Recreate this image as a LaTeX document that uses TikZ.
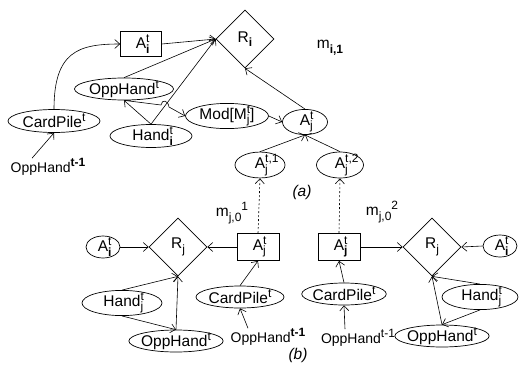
\documentclass[tikz,border=0pt]{standalone}
\usepackage{fontspec}
\setmainfont{Liberation Sans}
\usetikzlibrary{shapes.geometric,arrows.meta}
\newcommand{\SbSp}[2]{{\fontsize{12}{12}\selectfont
  \setbox0\hbox{#1}\setbox2\hbox{#2}%
  \dimen0=\ifdim\wd0>\wd2 \wd0\else\wd2\fi
  \rlap{\raisebox{-0.38em}{\box0}}\rlap{\raisebox{0.5em}{\box2}}\hspace{\dimen0}}}
\newcommand{\SpOnly}[1]{{\fontsize{12}{12}\selectfont\raisebox{0.5em}{#1}}}
\newcommand{\SbOnly}[1]{{\fontsize{12}{12}\selectfont\raisebox{-0.38em}{#1}}}
\begin{document}
\begin{tikzpicture}[x=1pt,y=-1pt,
  every node/.style={font=\fontsize{15.5}{17}\selectfont, inner sep=0pt},
  freelabel/.style={font=\fontsize{14}{16}\selectfont},
  ell/.style={draw, ellipse, line width=0.7pt, inner sep=-1.5pt},
  rectbox/.style={draw, rectangle, line width=0.7pt, minimum width=42pt, minimum height=27pt},
  dia/.style={draw, diamond, line width=0.7pt, minimum width=58pt, minimum height=58pt},
  arr/.style={line width=0.6pt, -{Straight Barb[length=5pt,width=9pt]}},
  darr/.style={arr, dash pattern=on 2pt off 2pt}]
\useasboundingbox (0,0) rectangle (519,364);

% ---------- (a) ----------
\node[rectbox, minimum width=41pt, minimum height=25pt] (ai) at (141,44) {A\SbSp{\textbf{i}}{t}};
\node[dia] (ri) at (245,39) {R\SbOnly{\textbf{i}}};
\node (mi1) at (330,48) {m\SbOnly{\textbf{i,1}}};
\node[ell, minimum width=99pt, minimum height=22pt] (oh1) at (124,89) {OppHand\SpOnly{t}};
\node[ell, minimum width=92pt, minimum height=23pt] (cp1) at (54,121) {CardPile\SpOnly{t}};
\node[freelabel] (ohm1) at (48,167) {OppHand\SpOnly{\textbf{t-1}}};
\node[ell, minimum width=82pt, minimum height=23pt] (hi) at (151,136) {Hand\SbSp{\textbf{i}}{t}};
\node[ell, minimum width=83pt, minimum height=25pt] (mod) at (227,116) {Mod[M\SbSp{j}{t}]};
\node[ell, minimum width=45pt, minimum height=22pt] (aj) at (305,122) {A\SbSp{j}{t}};
\node[ell, minimum width=50pt, minimum height=22pt] (aj1) at (260,165) {A\SbSp{j}{t,1}};
\node[ell, minimum width=47pt, minimum height=22pt] (aj2) at (340,165) {A\SbSp{j}{t,2}};
\node (la) at (302,192) {\itshape (a)};

\draw[arr] (cp1.north) .. controls (54,52) and (78,44) .. (ai.west);
\draw[arr] (ai.east) -- (ri.west);
\draw[arr] (oh1.north) -- (ri.west);
\draw[arr] (hi.north) -- (ri.west);
\draw[arr] (hi.north) -- (oh1.south);
\coordinate (hopa) at (161,105);
\coordinate (hopb) at (169,107);
\draw[arr] (oh1.south) -- (hopa) .. controls (162,99) and (168,100) .. (hopb) -- (mod.west);
\draw[arr] (mod.east) -- (aj.west);
\draw[arr] (aj.north) -- (ri.south);
\draw[arr] (aj1.north) -- (aj.south);
\draw[arr] (aj2.north) -- (aj.south);
\draw[arr] ([xshift=-16pt]ohm1.north) -- (cp1.south);

% ---------- (b) ----------
\node (lmj) at (232,213) {m\SbOnly{j,0}\SpOnly{1}};
\node (rmj) at (382,212) {m\SbOnly{j,0}\SpOnly{2}};
\node[rectbox] (lrect) at (258,247) {A\SbSp{j}{t}};
\node[rectbox] (rrect) at (339,247) {A\SbSp{\textbf{j}}{t}};
\node[dia] (lrj) at (178,247) {R\SbOnly{j}};
\node[dia] (rrj) at (432,247) {R\SbOnly{j}};
\node[ell, minimum width=34pt, minimum height=22pt] (lai) at (103,247) {A\SbSp{\textbf{i}}{t}};
\node[ell, minimum width=34pt, minimum height=22pt] (rai) at (500,246) {A\SbSp{\textbf{i}}{t}};
\node[ell, minimum width=80pt, minimum height=23pt] (lhj) at (122,303) {Hand\SbSp{j}{t}};
\node[ell, minimum width=76pt, minimum height=23pt] (rhj) at (480,297) {Hand\SbSp{j}{t}};
\node[ell, minimum width=93pt, minimum height=22pt] (loh) at (176,341) {OppHand\SpOnly{t}};
\node[ell, minimum width=91pt, minimum height=22pt] (roh) at (442,336) {OppHand\SpOnly{t}};
\node[ell, minimum width=88pt, minimum height=22pt] (lcp) at (240,297) {CardPile\SpOnly{t}};
\node[ell, minimum width=80pt, minimum height=22pt] (rcp) at (344,294) {CardPile\SpOnly{t}};
\node[freelabel] (lohm) at (268,337) {OppHand\SpOnly{\textbf{t-1}}};
\node[freelabel] (rohm) at (358,338) {OppHand\SpOnly{t-1}};
\node (lb) at (298,355) {\itshape (b)};

\draw[darr] (lrect.north) -- (aj1.south);
\draw[darr] (rrect.north) -- (aj2.south);
\draw[arr] (lrect.west) -- (lrj.east);
\draw[arr] (lai.east) -- (lrj.west);
\draw[arr] (lhj.north) -- (lrj.south);
\draw[arr] (lhj.south) -- (loh.north);
\draw[arr] (loh.north) -- (lrj.south);
\draw[arr] (lcp.north) -- (lrect.south);
\draw[arr] ([xshift=-20pt]lohm.north) -- (lcp.south);
\draw[arr] (rrect.east) -- (rrj.west);
\draw[arr] (rai.west) -- (rrj.east);
\draw[arr] (rhj.north) -- (rrj.south);
\draw[arr] (rhj.south) -- (roh.north);
\draw[arr] (roh.north) -- (rrj.south);
\draw[arr] (rcp.north) -- (rrect.south);
\draw[arr] ([xshift=-13pt]rohm.north) -- (rcp.south);
\end{tikzpicture}
\end{document}
